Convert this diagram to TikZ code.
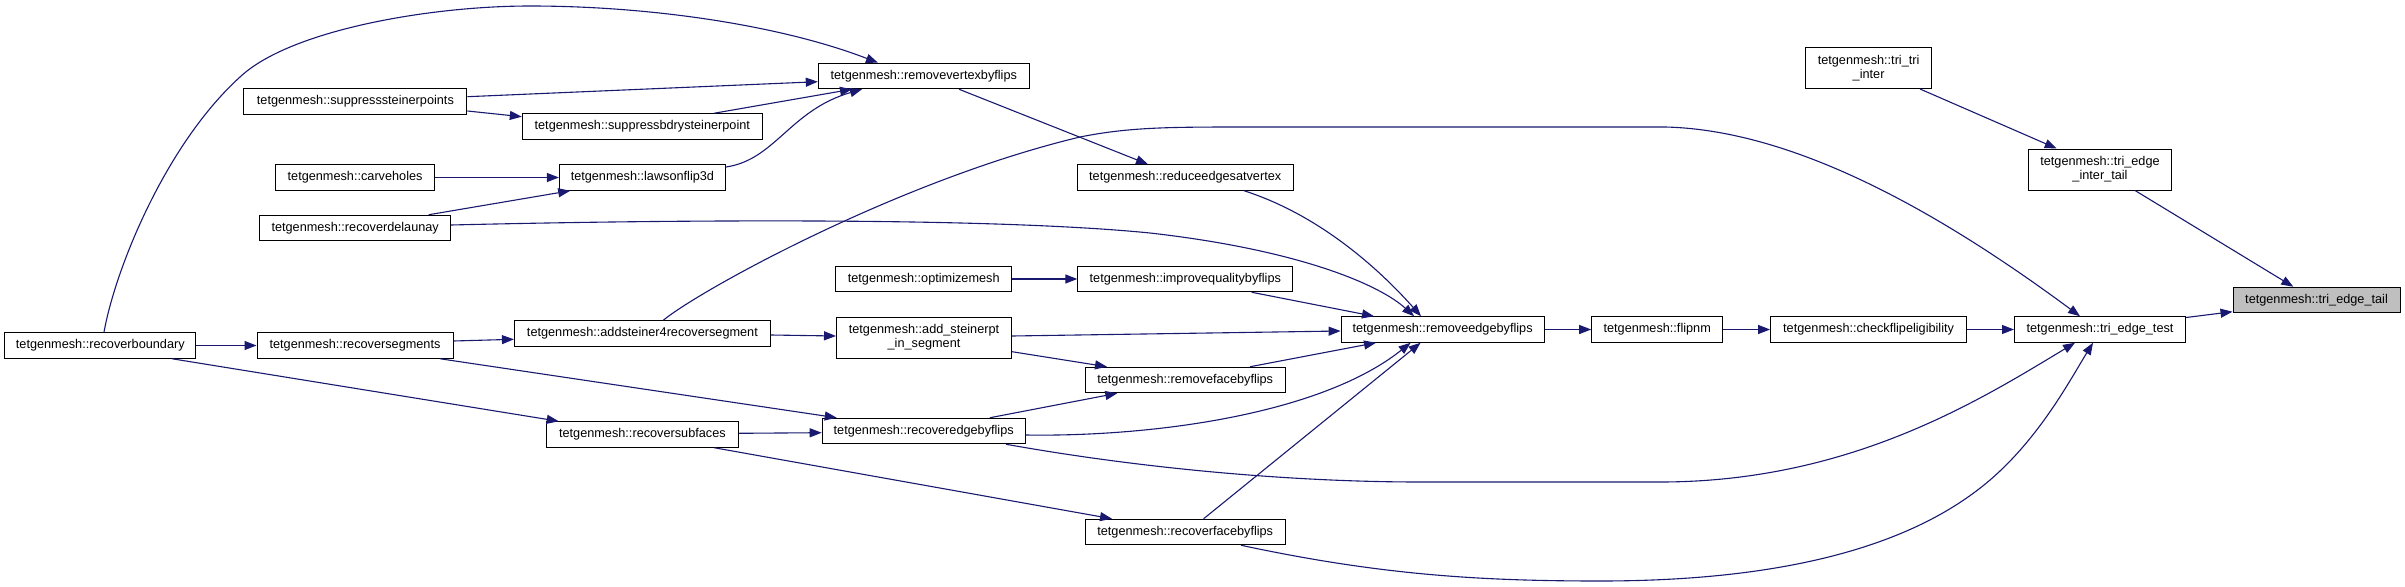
\documentclass[tikz,border=0pt]{standalone}
\usepackage{fontspec}
\setmainfont{Liberation Sans}
\usetikzlibrary{arrows.meta,calc}
\definecolor{edgeblue}{HTML}{191970}
\definecolor{hilite}{HTML}{BFBFBF}
\begin{document}
\begin{tikzpicture}[x=1pt,y=-1pt,
  fn/.style={draw=black,line width=1pt,fill=white,inner sep=0pt,minimum height=25.5pt,align=center,font=\fontsize{12.7}{14}\selectfont},
  fntwo/.style={fn,minimum height=41pt},
  call/.style={draw=edgeblue,line width=1.1pt,-{Triangle[length=12pt,width=9pt]}}]
\fill[white] (0,0) rectangle (2405,586);
\useasboundingbox (0,0) rectangle (2405,586);

% nodes
\node[fn,minimum width=191pt] (rb)  at (100.3,345.5) {tetgenmesh::recoverboundary};
\node[fn,minimum width=223pt] (ssp) at (355.4,101.5) {tetgenmesh::suppresssteinerpoints};
\node[fn,minimum width=159pt] (ch)  at (355.1,177.5) {tetgenmesh::carveholes};
\node[fn,minimum width=191pt] (rd)  at (355.2,228) {tetgenmesh::recoverdelaunay};
\node[fn,minimum width=196pt] (rs)  at (355,345.5) {tetgenmesh::recoversegments};
\node[fn,minimum width=240pt] (sbs) at (642.3,126.5) {tetgenmesh::suppressbdrysteinerpoint};
\node[fn,minimum width=166pt] (lf)  at (642.4,177.5) {tetgenmesh::lawsonflip3d};
\node[fn,minimum width=256pt] (as4) at (642.4,333.5) {tetgenmesh::addsteiner4recoversegment};
\node[fn,minimum width=192pt] (rsf) at (642.4,434.5) {tetgenmesh::recoversubfaces};
\node[fn,minimum width=211pt] (rvf) at (923.8,76) {tetgenmesh::removevertexbyflips};
\node[fn,minimum width=176pt] (om)  at (923.7,279) {tetgenmesh::optimizemesh};
\node[fntwo,minimum width=175pt] (asp) at (924,337.5) {tetgenmesh::add\_steinerpt\\\_in\_segment};
\node[fn,minimum width=203pt] (ref) at (923.7,431) {tetgenmesh::recoveredgebyflips};
\node[fn,minimum width=216pt] (rev) at (1185.2,177.5) {tetgenmesh::reduceedgesatvertex};
\node[fn,minimum width=215pt] (iqf) at (1185.3,279) {tetgenmesh::improvequalitybyflips};
\node[fn,minimum width=200pt] (rff) at (1185.2,380) {tetgenmesh::removefacebyflips};
\node[fn,minimum width=200pt] (rcf) at (1185.2,532) {tetgenmesh::recoverfacebyflips};
\node[fn,minimum width=203pt] (reb) at (1442.6,329.5) {tetgenmesh::removeedgebyflips};
\node[fn,minimum width=131pt] (fnm) at (1657.2,329.5) {tetgenmesh::flipnm};
\node[fn,minimum width=196pt] (cfe) at (1868.6,329.5) {tetgenmesh::checkflipeligibility};
\node[fntwo,minimum width=126pt] (tti) at (1868.6,68) {tetgenmesh::tri\_tri\\\_inter};
\node[fntwo,minimum width=143pt] (teit) at (2100,169.5) {tetgenmesh::tri\_edge\\\_inter\_tail};
\node[fn,minimum width=171pt] (tet) at (2100,329.5) {tetgenmesh::tri\_edge\_test};
\node[fn,minimum width=167pt,fill=hilite] (tetl) at (2316.5,300) {tetgenmesh::tri\_edge\_tail};

% edges
\draw[call] ($(rb.north)+(3.7,0)$) .. controls (115,270) and (165,145) .. (240,77)
  .. controls (290,30) and (430,6) .. (530,6)
  .. controls (650,6) and (780,25) .. ($(rvf.north)+(-45.8,0)$);
\draw[call] (rb.east) -- (rs.west);
\draw[call] ($(rb.south)+(71.7,0)$) -- ($(rsf.north)+(-83.7,0)$);
\draw[call] ($(ssp.east)+(0,-4.8)$) -- ($(rvf.west)+(0,5.7)$);
\draw[call] ($(ssp.east)+(0,9.5)$) -- ($(sbs.west)+(0,-9.8)$);
\draw[call] ($(sbs.north)+(71.7,0)$) -- ($(rvf.south)+(-71.8,0)$);
\draw[call] ($(lf.east)+(0,-10.5)$) .. controls (775,160) and (790,110) .. ($(rvf.south)+(-61.8,0)$);
\draw[call] (ch.east) -- (lf.west);
\draw[call] ($(rd.north)+(73.4,0)$) -- ($(lf.south)+(-72.2,0)$);
\draw[call] ($(rd.east)+(0,-3)$) .. controls (700,219) and (1000,218) .. (1150,233)
  .. controls (1300,250) and (1380,285) .. ($(reb.north)+(-28.6,0)$);
\draw[call] ($(rvf.south)+(35.2,0)$) -- ($(rev.north)+(-37.2,0)$);
\draw[call] ($(rev.south)+(58.8,0)$) .. controls (1320,215) and (1380,270) .. ($(reb.north)+(-21.6,0)$);
\draw[call] (om.east) -- (iqf.west);
\draw[call] ($(iqf.south)+(66.3,0)$) -- ($(reb.north)+(-68.6,0)$);
\draw[call] ($(rs.east)+(0,-4.5)$) -- ($(as4.west)+(0,5.8)$);
\draw[call] ($(rs.south)+(85,0)$) -- ($(ref.north)+(-87,0)$);
\draw[call] ($(as4.north)+(20.9,0)$) .. controls (700,290) and (900,180) .. (1080,137)
  .. controls (1130,127) and (1170,127) .. (1250,127) -- (1665,127)
  .. controls (1800,130) and (1950,220) .. ($(tet.north)+(-20,0)$);
\draw[call] ($(as4.east)+(0,1.5)$) -- ($(asp.west)+(0,-1.5)$);
\draw[call] ($(asp.east)+(0,-1.5)$) -- ($(reb.west)+(0,1.5)$);
\draw[call] ($(asp.east)+(0,14.2)$) -- ($(rff.north)+(-78.2,0)$);
\draw[call] ($(rff.north)+(64.8,0)$) -- ($(reb.south)+(-66.6,0)$);
\draw[call] ($(rsf.east)+(0,-1.2)$) -- ($(ref.west)+(0,1.7)$);
\draw[call] ($(rsf.south)+(71.9,0)$) -- ($(rcf.north)+(-73.2,0)$);
\draw[call] ($(ref.north)+(66.1,0)$) -- ($(rff.south)+(-67.9,0)$);
\draw[call] ($(ref.east)+(0,4)$) .. controls (1150,437) and (1320,415) .. ($(reb.south)+(-32,0)$);
\draw[call] ($(ref.south)+(82.3,0)$) .. controls (1150,470) and (1300,482) .. (1420,482) -- (1660,482)
  .. controls (1850,482) and (1980,400) .. ($(tet.south)+(-25,0)$);
\draw[call] ($(rcf.north)+(18.4,0)$) -- ($(reb.south)+(-22,0)$);
\draw[call] ($(rcf.south)+(55.8,0)$) .. controls (1380,575) and (1480,581) .. (1600,581)
  .. controls (1800,581) and (1920,540) .. (1990,480)
  .. controls (2040,437) and (2070,380) .. ($(tet.south)+(-7,0)$);
\draw[call] (reb.east) -- (fnm.west);
\draw[call] (fnm.east) -- (cfe.west);
\draw[call] (cfe.east) -- (tet.west);
\draw[call] ($(tet.east)+(0,-12)$) -- ($(tetl.west)+(0,11.7)$);
\draw[call] ($(tti.south)+(51.4,0)$) -- ($(teit.north)+(-43.3,0)$);
\draw[call] ($(teit.south)+(35,0)$) -- ($(tetl.north)+(-23.2,0)$);
\end{tikzpicture}
\end{document}
